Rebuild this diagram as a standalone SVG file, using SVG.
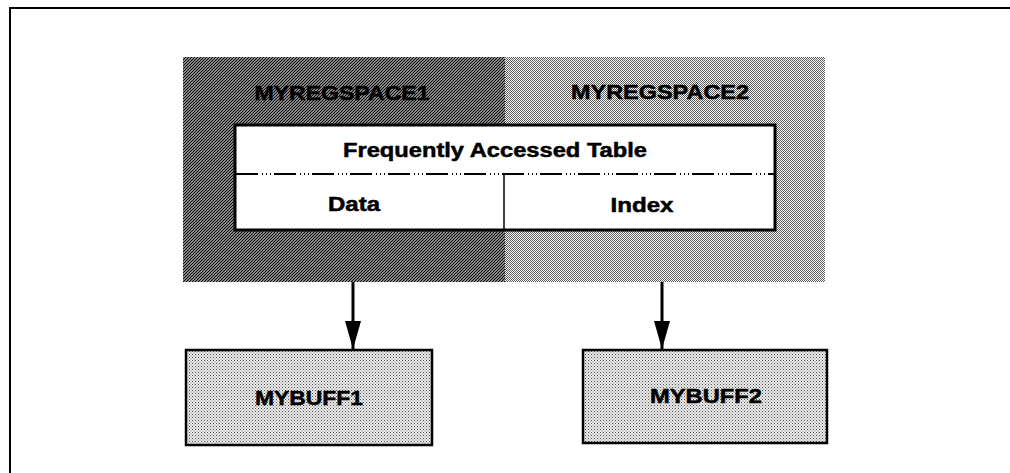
<svg xmlns="http://www.w3.org/2000/svg" width="1010" height="473" viewBox="0 0 1010 473">
<defs>
<pattern id="hatch" width="3" height="3" patternUnits="userSpaceOnUse">
<rect width="3" height="3" fill="#b8b8b8"/>
<path d="M-1,1 L1,-1 M0,3 L3,0 M2,4 L4,2" stroke="#000" stroke-width="1.1"/>
</pattern>
<pattern id="checker" width="2" height="2" patternUnits="userSpaceOnUse">
<rect width="2" height="2" fill="#fff"/>
<rect x="0" y="0" width="1" height="1" fill="#5a5a5a"/>
<rect x="1" y="1" width="1" height="1" fill="#5a5a5a"/>
</pattern>
<pattern id="dots" width="3" height="3" patternUnits="userSpaceOnUse">
<rect width="3" height="3" fill="#e8e8e8"/>
<rect x="0" y="0" width="1" height="1" fill="#555"/>
<rect x="1.5" y="1.5" width="1" height="1" fill="#888"/>
</pattern>
<marker id="arrow" markerWidth="28" markerHeight="16" refX="28" refY="8" orient="auto" markerUnits="userSpaceOnUse" viewBox="0 0 28 16">
<path d="M0,0 L28,8 L0,16 Z" fill="#000"/>
</marker>
<style>
.lbl{font-family:"Liberation Sans",Arial,sans-serif;font-weight:bold;font-size:20px;fill:#000;stroke:#000;stroke-width:0.5;text-anchor:middle}
.frame{stroke:#000;stroke-width:2;fill:none}
.conn{stroke:#000;stroke-width:3;fill:none}
</style>
</defs>
<g id="frame">
<path class="frame" d="M1010,8 L10,8 L10,473"/>
</g>
<g id="myregspace1">
<rect x="183" y="57" width="322" height="225" fill="url(#hatch)"/>
<text class="lbl" x="342" y="100" textLength="175" lengthAdjust="spacingAndGlyphs">MYREGSPACE1</text>
</g>
<g id="myregspace2">
<rect x="505" y="57" width="320" height="225" fill="url(#checker)"/>
<text class="lbl" x="660" y="99" textLength="178" lengthAdjust="spacingAndGlyphs">MYREGSPACE2</text>
</g>
<g id="table">
<rect x="235" y="125" width="540" height="105" fill="#fff" stroke="#000" stroke-width="3"/>
<line x1="236" y1="174" x2="774" y2="174" stroke="#000" stroke-width="2" stroke-dasharray="22 4 1 3 1 3 1 3"/>
<line x1="504" y1="174" x2="504" y2="229" stroke="#000" stroke-width="1.5"/>
<text class="lbl" x="495" y="157" textLength="304" lengthAdjust="spacingAndGlyphs">Frequently Accessed Table</text>
<text class="lbl" x="354" y="211" textLength="52" lengthAdjust="spacingAndGlyphs">Data</text>
<text class="lbl" x="642" y="212" textLength="63" lengthAdjust="spacingAndGlyphs">Index</text>
</g>
<g id="mybuff1">
<rect x="186" y="350" width="246" height="95" fill="url(#dots)" stroke="#000" stroke-width="2.5"/>
<text class="lbl" x="309" y="405" textLength="108" lengthAdjust="spacingAndGlyphs">MYBUFF1</text>
</g>
<g id="mybuff2">
<rect x="583" y="350" width="244" height="93" fill="url(#dots)" stroke="#000" stroke-width="2.5"/>
<text class="lbl" x="706" y="403" textLength="112" lengthAdjust="spacingAndGlyphs">MYBUFF2</text>
</g>
<g id="connectors">
<line class="conn" x1="353" y1="282" x2="353" y2="349" marker-end="url(#arrow)"/>
<line class="conn" x1="662" y1="282" x2="662" y2="349" marker-end="url(#arrow)"/>
</g>
</svg>
